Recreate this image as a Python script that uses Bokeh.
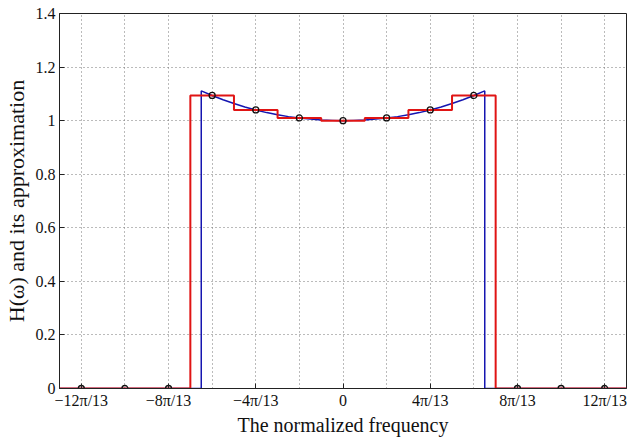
from bokeh.plotting import figure
from bokeh.models import FixedTicker, Range1d
from bokeh.embed import file_html
from bokeh.resources import INLINE

# frequency in units of pi/13
blue_k = [-13, -6.5, -6.5, -6, -5.5, -5, -4.5, -4, -3.5, -3, -2.5, -2, -1.5, -1, -0.5, 0,
          0.5, 1, 1.5, 2, 2.5, 3, 3.5, 4, 4.5, 5, 5.5, 6, 6.5, 6.5, 13]
blue_h = [0, 0, 1.111, 1.094, 1.078, 1.064, 1.051, 1.040, 1.030, 1.022, 1.015, 1.010, 1.006, 1.002, 1.001, 1.000,
          1.001, 1.002, 1.006, 1.010, 1.015, 1.022, 1.030, 1.040, 1.051, 1.064, 1.078, 1.094, 1.111, 0, 0]

sample_k = [-12, -10, -8, -6, -4, -2, 0, 2, 4, 6, 8, 10, 12]
sample_h = [0, 0, 0, 1.094, 1.040, 1.010, 1.000, 1.010, 1.040, 1.094, 0, 0, 0]

red_k = [-13] + sample_k + [13]
red_h = [0] + sample_h + [0]

x_ticks = [-12, -8, -4, 0, 4, 8, 12]
x_minor = [-10, -6, -2, 2, 6, 10]
x_labels = ["\u221212\u03c0/13", "\u22128\u03c0/13", "\u22124\u03c0/13", "0", "4\u03c0/13", "8\u03c0/13", "12\u03c0/13"]
y_ticks = [0, 0.2, 0.4, 0.6, 0.8, 1.0, 1.2, 1.4]
y_labels = ["0", "0.2", "0.4", "0.6", "0.8", "1", "1.2", "1.4"]

FONT = "Liberation Serif"

p = figure(width=627, height=438, x_range=Range1d(-13, 13), y_range=Range1d(0, 1.4),
           output_backend="svg", toolbar_location=None,
           min_border_left=10, min_border_right=1, min_border_top=13, min_border_bottom=10)
p.background_fill_color = "white"
p.border_fill_color = "white"
p.outline_line_color = "#222222"

p.xaxis.ticker = FixedTicker(ticks=x_ticks, minor_ticks=x_minor)
p.xaxis.major_label_overrides = {t: l for t, l in zip(x_ticks, x_labels)}
p.yaxis.ticker = FixedTicker(ticks=y_ticks)
p.yaxis.major_label_overrides = {t: l for t, l in zip(y_ticks, y_labels)}

p.xaxis.axis_label = "The normalized frequency"
p.yaxis.axis_label = "H(\u03c9) and its approximation"

for ax in [p.xaxis[0], p.yaxis[0]]:
    ax.axis_line_color = "#222222"
    ax.major_tick_in = 5
    ax.major_tick_out = 0
    ax.minor_tick_in = 0
    ax.minor_tick_out = 0
    ax.major_tick_line_color = "#222222"
    ax.major_label_text_font = FONT
    ax.major_label_text_font_size = "16px"
    ax.major_label_text_color = "#111111"
    ax.axis_label_text_font = FONT
    ax.axis_label_text_font_size = "20px"
    ax.axis_label_text_font_style = "normal"
    ax.axis_label_text_color = "#111111"
p.yaxis.axis_label_text_font_size = "22px"
p.xaxis.major_label_standoff = 3
p.xaxis.axis_label_standoff = 2
p.yaxis.major_label_standoff = 4
p.yaxis.axis_label_standoff = 4

for g in [p.xgrid[0], p.ygrid[0]]:
    g.grid_line_color = "#777777"
    g.grid_line_dash = "1 3"
    g.grid_line_width = 1
p.xgrid.minor_grid_line_color = "#777777"
p.xgrid.minor_grid_line_dash = "1 3"

p.line(blue_k, blue_h, line_color="#1515b0", line_width=1.5)
p.step(red_k, red_h, mode="center", line_color="#e01414", line_width=2)
p.scatter(sample_k, sample_h, marker="circle", size=6, line_color="#111111",
          fill_color=None, line_width=1.3)

open("out.html", "w").write(file_html(p, INLINE))
